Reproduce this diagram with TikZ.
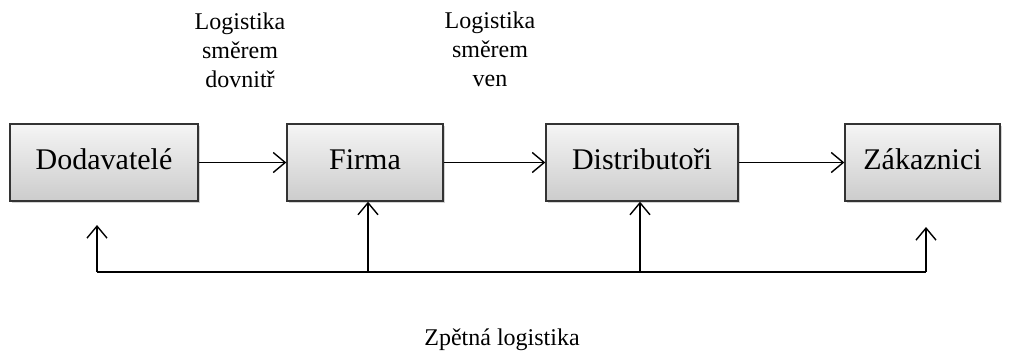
\documentclass[tikz,border=0pt]{standalone}
\usepackage{fontspec}
\setmainfont{Liberation Serif}
\usetikzlibrary{arrows.meta,shadows}
\begin{document}
\begin{tikzpicture}[x=1pt,y=-1pt,
  box/.style={draw=black!80, line width=1.4pt, top color=gray!8, bottom color=gray!40,
    drop shadow={shadow xshift=2pt, shadow yshift=-2pt, opacity=0.35},
    minimum height=77pt, inner sep=0pt, text height=20pt, text depth=6pt,
    font=\fontsize{30}{34}\selectfont},
  lab/.style={align=center, font=\fontsize{24}{29}\selectfont, inner sep=0pt},
  arr/.style={line width=1.4pt, -{Straight Barb[length=12pt,width=20pt,line width=1.4pt]}},
  ln/.style={line width=1.4pt}]
\useasboundingbox (0,0) rectangle (1009,354);
\node[box, minimum width=188pt] (dod) at (104,162.5) {Dodavatelé};
\node[box, minimum width=156pt] (fir) at (365,162.5) {Firma};
\node[box, minimum width=192pt] (dis) at (642,162.5) {Distributoři};
\node[box, minimum width=155pt] (zak) at (922.5,162.5) {Zákaznici};
\draw[arr] (dod) -- (fir);
\draw[arr] (fir) -- (dis);
\draw[arr] (dis) -- (zak);
\coordinate (t1) at (97,225);
\coordinate (b1) at (97,272);
\coordinate (t4) at (926,227);
\coordinate (b4) at (926,272);
\coordinate (b2) at (368,272);
\coordinate (b3) at (640,272);
\draw[arr] (b1) -- (t1);
\draw[ln] (b1) -- (b4);
\draw[arr] (b4) -- (t4);
\draw[arr] (b2) -- (b2 |- fir.south);
\draw[arr] (b3) -- (b3 |- dis.south);
\node[lab] (in) at (240,50) {Logistika\\směrem\\dovnitř};
\node[lab] (out) at (490,49) {Logistika\\směrem\\ven};
\node[lab] (zpet) at (502,340) {Zpětná logistika};
\end{tikzpicture}
\end{document}
